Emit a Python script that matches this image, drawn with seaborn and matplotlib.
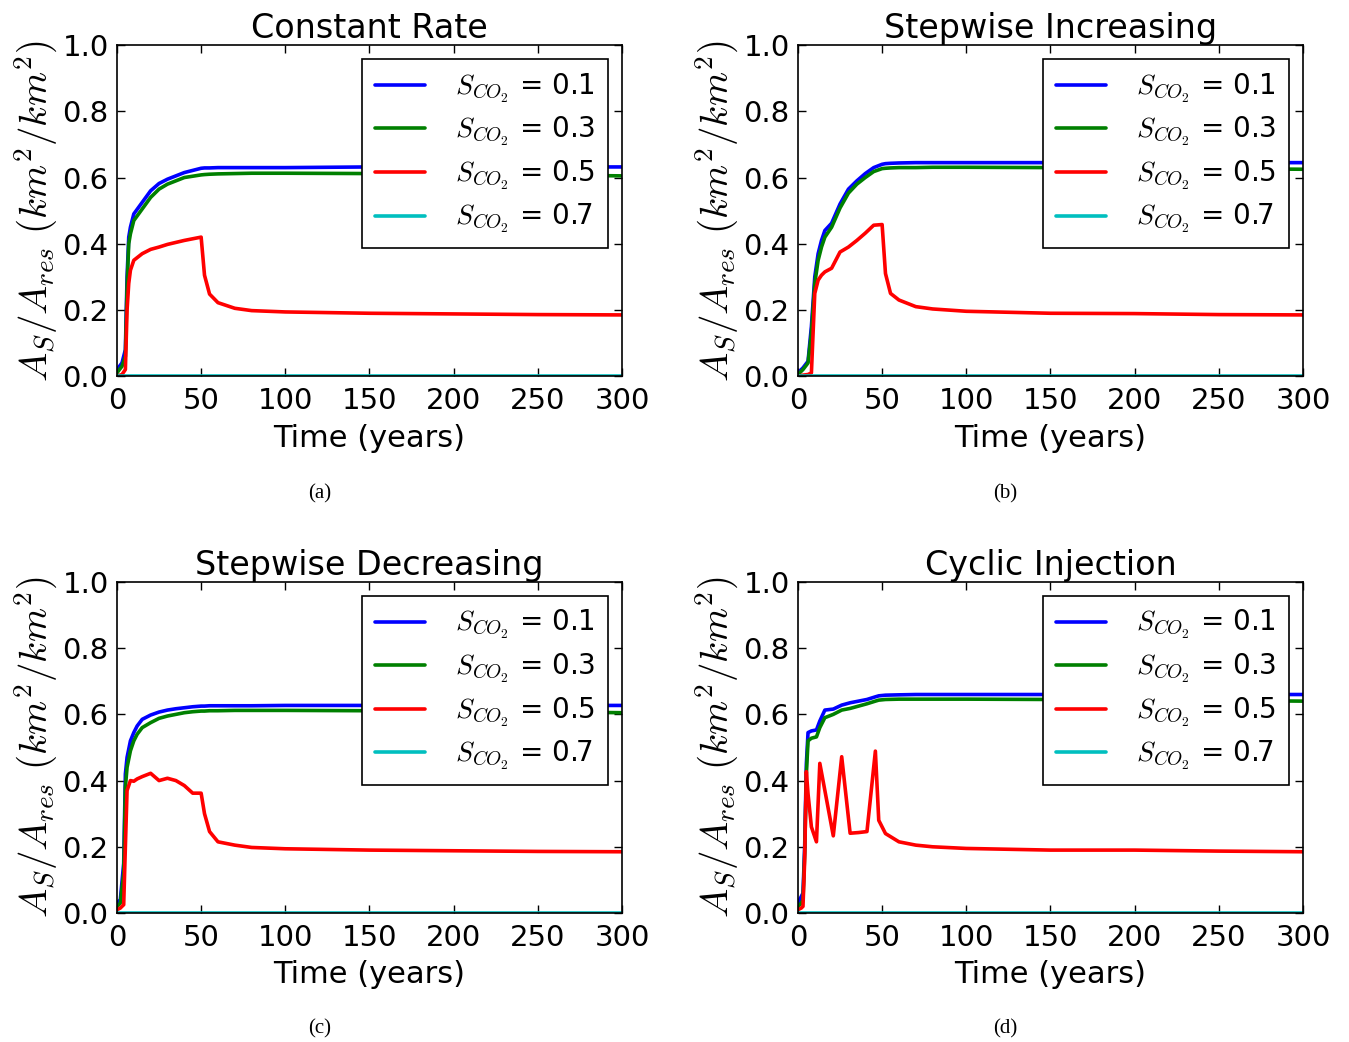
import seaborn as sns
import matplotlib.pyplot as plt

# time grids (years) per panel
t_const = [0, 3, 5, 6, 7, 8, 10, 15, 20, 25, 30, 40, 50, 52, 55, 60, 70, 80, 100, 150, 200, 250, 300]
blue_const = [0.02, 0.04, 0.08, 0.30, 0.42, 0.45, 0.49, 0.525, 0.56, 0.582, 0.595, 0.615, 0.628, 0.629, 0.629,
              0.63, 0.63, 0.63, 0.63, 0.632, 0.632, 0.632, 0.632]
green_const = [0.01, 0.03, 0.06, 0.27, 0.40, 0.43, 0.47, 0.505, 0.54, 0.565, 0.58, 0.60, 0.608, 0.609, 0.61,
               0.611, 0.612, 0.613, 0.613, 0.612, 0.61, 0.608, 0.605]
red_const = [0.0, 0.005, 0.02, 0.2, 0.28, 0.32, 0.35, 0.37, 0.383, 0.39, 0.398, 0.41, 0.42, 0.305, 0.248,
             0.222, 0.205, 0.198, 0.194, 0.19, 0.188, 0.186, 0.185]

t_inc = [0, 3, 6, 8, 10, 12, 14, 16, 20, 25, 30, 35, 40, 45, 50, 52, 55, 60, 70, 80, 100, 150, 200, 250, 300]
blue_inc = [0.01, 0.025, 0.045, 0.15, 0.30, 0.37, 0.41, 0.44, 0.462, 0.52, 0.565, 0.59, 0.612, 0.63, 0.64,
            0.642, 0.643, 0.644, 0.645, 0.645, 0.645, 0.645, 0.645, 0.645, 0.645]
green_inc = [0.005, 0.02, 0.04, 0.13, 0.28, 0.35, 0.39, 0.42, 0.45, 0.508, 0.553, 0.58, 0.60, 0.618, 0.627,
             0.628, 0.629, 0.63, 0.63, 0.631, 0.631, 0.63, 0.629, 0.627, 0.625]
red_inc = [0.0, 0.003, 0.005, 0.01, 0.25, 0.29, 0.305, 0.315, 0.326, 0.375, 0.39, 0.41, 0.432, 0.456, 0.458,
           0.31, 0.25, 0.23, 0.21, 0.203, 0.196, 0.19, 0.189, 0.186, 0.185]

t_dec = [0, 2, 4, 5, 6, 8, 10, 12, 15, 20, 25, 30, 35, 40, 45, 50, 52, 55, 60, 70, 80, 100, 150, 200, 250, 300]
blue_dec = [0.03, 0.04, 0.15, 0.42, 0.47, 0.52, 0.545, 0.565, 0.585, 0.598, 0.607, 0.613, 0.617, 0.62, 0.623,
            0.625, 0.625, 0.626, 0.626, 0.626, 0.626, 0.627, 0.627, 0.627, 0.627, 0.627]
green_dec = [0.02, 0.03, 0.12, 0.38, 0.44, 0.49, 0.52, 0.54, 0.56, 0.575, 0.588, 0.595, 0.60, 0.605, 0.608,
             0.61, 0.61, 0.611, 0.611, 0.612, 0.612, 0.612, 0.611, 0.61, 0.608, 0.605]
red_dec = [0.01, 0.015, 0.025, 0.2, 0.37, 0.40, 0.398, 0.405, 0.412, 0.422, 0.40, 0.407, 0.40, 0.385, 0.362,
           0.362, 0.30, 0.246, 0.215, 0.205, 0.198, 0.194, 0.19, 0.188, 0.186, 0.185]

t_cyc = [0, 2, 3, 4, 5, 6, 8, 11, 13, 16, 21, 26, 31, 36, 41, 46, 48, 52, 60, 70, 80, 100, 150, 200, 250, 300]
blue_cyc = [0.03, 0.05, 0.06, 0.2, 0.45, 0.545, 0.55, 0.553, 0.58, 0.613, 0.616, 0.628, 0.635, 0.64, 0.645,
            0.653, 0.656, 0.658, 0.659, 0.66, 0.66, 0.66, 0.66, 0.66, 0.66, 0.66]
green_cyc = [0.02, 0.03, 0.04, 0.18, 0.42, 0.52, 0.528, 0.532, 0.56, 0.59, 0.6, 0.613, 0.618, 0.625, 0.632,
             0.64, 0.643, 0.645, 0.646, 0.646, 0.646, 0.646, 0.645, 0.644, 0.642, 0.64]
red_cyc = [0.01, 0.015, 0.02, 0.16, 0.427, 0.36, 0.26, 0.215, 0.452, 0.37, 0.233, 0.472, 0.241, 0.243, 0.246,
           0.489, 0.28, 0.24, 0.215, 0.205, 0.2, 0.195, 0.19, 0.19, 0.187, 0.185]

titles = ['Constant Rate', 'Stepwise Increasing', 'Stepwise Decreasing', 'Cyclic Injection']
captions = ['(a)', '(b)', '(c)', '(d)']
saturations = ['0.1', '0.3', '0.5', '0.7']
colors = ['blue', 'green', 'red', 'c']

panels = [
    (t_const, [blue_const, green_const, red_const, [0.0] * len(t_const)]),
    (t_inc, [blue_inc, green_inc, red_inc, [0.0] * len(t_inc)]),
    (t_dec, [blue_dec, green_dec, red_dec, [0.0] * len(t_dec)]),
    (t_cyc, [blue_cyc, green_cyc, red_cyc, [0.0] * len(t_cyc)]),
]

sns.set_style('white', rc={'xtick.direction': 'in', 'ytick.direction': 'in',
                           'xtick.top': True, 'ytick.right': True,
                           'xtick.bottom': True, 'ytick.left': True,
                           'axes.edgecolor': 'black', 'text.color': 'black',
                           'axes.labelcolor': 'black', 'xtick.color': 'black',
                           'ytick.color': 'black'})
plt.rcParams['font.family'] = ['DejaVu Sans']
plt.rcParams['mathtext.fontset'] = 'cm'

fig = plt.figure(figsize=(13.49, 10.42), dpi=100)
lefts = [0.0867, 0.5915, 0.0867, 0.5915]
bottoms = [0.639, 0.639, 0.1238, 0.1238]
cap_x = [0.237, 0.745, 0.237, 0.745]
cap_y = [0.526, 0.526, 0.0125, 0.0125]

for i, (t, series) in enumerate(panels):
    ax = fig.add_axes([lefts[i], bottoms[i], 0.3744, 0.3177])
    for vals, col, s in zip(series, colors, saturations):
        sns.lineplot(x=t, y=vals, color=col, lw=2.6, label=r'$S_{CO_2}$ = ' + s, ax=ax)
    ax.set_xlim(0, 300)
    ax.set_ylim(0, 1.0)
    ax.set_xticks(range(0, 301, 50))
    ax.set_yticks([0.0, 0.2, 0.4, 0.6, 0.8, 1.0])
    ax.tick_params(labelsize=21, length=6, width=1, pad=6)
    ax.tick_params(axis='x', pad=8)
    for sp in ax.spines.values():
        sp.set_linewidth(1.2)
    ax.set_title(titles[i], fontsize=24, pad=3)
    ax.set_xlabel('Time (years)', fontsize=22, labelpad=6)
    ax.set_ylabel(r'$A_S/A_{res}\ (km^2/km^2)$', fontsize=28, labelpad=2)
    leg = ax.legend(loc='upper right', fontsize=20, fancybox=False, framealpha=1,
                    edgecolor='black', borderaxespad=0.5, handlelength=1.8,
                    handletextpad=1.1, labelspacing=0.38, borderpad=0.45)
    leg.get_frame().set_linewidth(1.2)
    fig.text(cap_x[i], cap_y[i], captions[i], fontsize=15, family='Liberation Serif',
             ha='center', va='center')

fig.savefig('out.png', dpi=100)
